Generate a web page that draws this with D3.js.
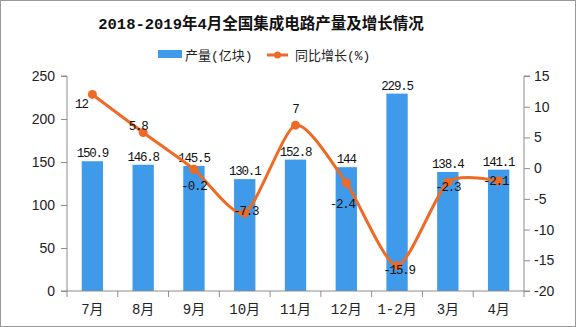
<!DOCTYPE html>
<html>
<head>
<meta charset="utf-8">
<script src="https://cdn.jsdelivr.net/npm/d3@7/dist/d3.min.js"></script>
<style>
  html, body { margin: 0; padding: 0; background: #fff; }
  svg { display: block; }
</style>
</head>
<body>
<svg id="chart" width="576" height="327"></svg>
<script>
// 2018-2019 monthly integrated circuit output and year-on-year growth
const categories = ["7月", "8月", "9月", "10月", "11月", "12月", "1-2月", "3月", "4月"];
const output = [150.9, 146.8, 145.5, 130.1, 152.8, 144, 229.5, 138.4, 141.1];
const growth = [12, 5.8, -0.2, -7.3, 7, -2.4, -15.9, -2.3, -2.1];
const leftTicks = [0, 50, 100, 150, 200, 250];
const rightTicks = [-20, -15, -10, -5, 0, 5, 10, 15];

// label nudges for the growth values (dx, dy) so they clear the line
const growthLabelShift = [[-11, 10], [-5, -7], [0, 17], [1, -2], [0, -16], [-4, 21], [2, 4], [0, 5], [-3, 0]];

const svg = d3.select("#chart");
const W = 576, H = 327;
const m = { left: 67, right: 524, top: 76, bottom: 291 };

const x = d3.scaleBand().domain(categories).range([m.left, m.right]).paddingInner(0.58).paddingOuter(0.29);
const xb = d3.scaleBand().domain(categories).range([m.left, m.right]);
const yL = d3.scaleLinear().domain([0, 250]).range([m.bottom, m.top]);
const yR = d3.scaleLinear().domain([-20, 15]).range([m.bottom, m.top]);

const axisColor = "#8c8c8c";
const numFont = "'Liberation Mono', 'DejaVu Sans Mono', monospace";
// Latin characters in a fixed-width face, CJK falling back to Noto Sans CJK
const mixFont = "'Liberation Mono', 'Noto Sans CJK SC', monospace";

// outer frame
svg.append("rect").attr("x", 0.5).attr("y", 0.5).attr("width", W - 1).attr("height", H - 1)
  .attr("fill", "#fff").attr("stroke", "#9a9a9a");

// title
svg.append("text").attr("x", 261).attr("y", 29).attr("text-anchor", "middle")
  .attr("font-family", mixFont).attr("font-weight", "bold")
  .attr("font-size", 15.5).attr("fill", "#111")
  .text("2018-2019年4月全国集成电路产量及增长情况");

// legend
const lg = svg.append("g").attr("font-family", mixFont).attr("font-size", 13).attr("fill", "#222");
lg.append("rect").attr("x", 158).attr("y", 50).attr("width", 24).attr("height", 8).attr("fill", "#3f9aea");
lg.append("text").attr("x", 185).attr("y", 60).text("产量(亿块)");
lg.append("line").attr("x1", 267).attr("x2", 288).attr("y1", 55).attr("y2", 55)
  .attr("stroke", "#ee6a25").attr("stroke-width", 3);
lg.append("circle").attr("cx", 277.5).attr("cy", 55).attr("r", 3.5).attr("fill", "#ee6a25");
lg.append("text").attr("x", 295).attr("y", 60).text("同比增长(%)");

// bars
svg.append("g").selectAll("rect").data(output).join("rect")
  .attr("x", (d, i) => x(categories[i]))
  .attr("width", x.bandwidth())
  .attr("y", d => yL(d))
  .attr("height", d => yL(0) - yL(d))
  .attr("fill", "#3f9aea");

// bar value labels
svg.append("g").attr("font-family", numFont).attr("font-size", 12.5).attr("letter-spacing", -1.2).attr("fill", "#111")
  .selectAll("text").data(output).join("text")
  .attr("x", (d, i) => x(categories[i]) + x.bandwidth() / 2)
  .attr("y", d => yL(d) - 4)
  .attr("text-anchor", "middle")
  .text(d => d);

// axes
const axL = svg.append("g").attr("transform", `translate(${m.left},0)`)
  .call(d3.axisLeft(yL).tickValues(leftTicks).tickSize(6).tickPadding(6));
const axR = svg.append("g").attr("transform", `translate(${m.right},0)`)
  .call(d3.axisRight(yR).tickValues(rightTicks).tickSize(6).tickPadding(4).tickFormat(d => d));
const axB = svg.append("g").attr("transform", `translate(0,${m.bottom})`)
  .call(d3.axisBottom(xb).tickSize(0).tickPadding(13));
axB.selectAll(".tick line").remove();
// tick marks between categories
axB.selectAll(".sep").data(d3.range(categories.length + 1)).join("line")
  .attr("x1", i => m.left + i * xb.step()).attr("x2", i => m.left + i * xb.step())
  .attr("y1", 0).attr("y2", 6).attr("stroke", axisColor);

[axL, axR, axB].forEach(a => {
  a.select(".domain").attr("stroke", axisColor);
  a.selectAll(".tick line").attr("stroke", axisColor);
  a.selectAll("text").attr("font-size", 14).attr("fill", "#222");
});
axL.select(".domain").attr("d", `M-6,${m.top}H0V${m.bottom}H-6`);
axR.select(".domain").attr("d", `M6,${m.top}H0V${m.bottom}H6`);
axL.selectAll("text").attr("font-family", "'Liberation Sans', Arial, sans-serif");
axR.selectAll("text").attr("font-family", "'Liberation Sans', Arial, sans-serif");
axB.selectAll("text").attr("font-family", mixFont);
axB.select(".domain").attr("d", `M${m.left},0H${m.right}`);

// growth line
const cx = i => xb(categories[i]) + xb.bandwidth() / 2;
const line = d3.line().x((d, i) => cx(i)).y(d => yR(d)).curve(d3.curveCardinal.tension(0.3));
svg.append("path").datum(growth).attr("d", line)
  .attr("fill", "none").attr("stroke", "#ee6a25").attr("stroke-width", 3);
svg.append("g").selectAll("circle").data(growth).join("circle")
  .attr("cx", (d, i) => cx(i)).attr("cy", d => yR(d)).attr("r", 4.5).attr("fill", "#ee6a25");

// growth labels
svg.append("g").attr("font-family", numFont).attr("font-size", 12.5).attr("letter-spacing", -1.2).attr("fill", "#111")
  .selectAll("text").data(growth).join("text")
  .attr("x", (d, i) => cx(i) + growthLabelShift[i][0])
  .attr("y", (d, i) => yR(d) + growthLabelShift[i][1] + 4)
  .attr("text-anchor", "middle")
  .text(d => d);
</script>
</body>
</html>
